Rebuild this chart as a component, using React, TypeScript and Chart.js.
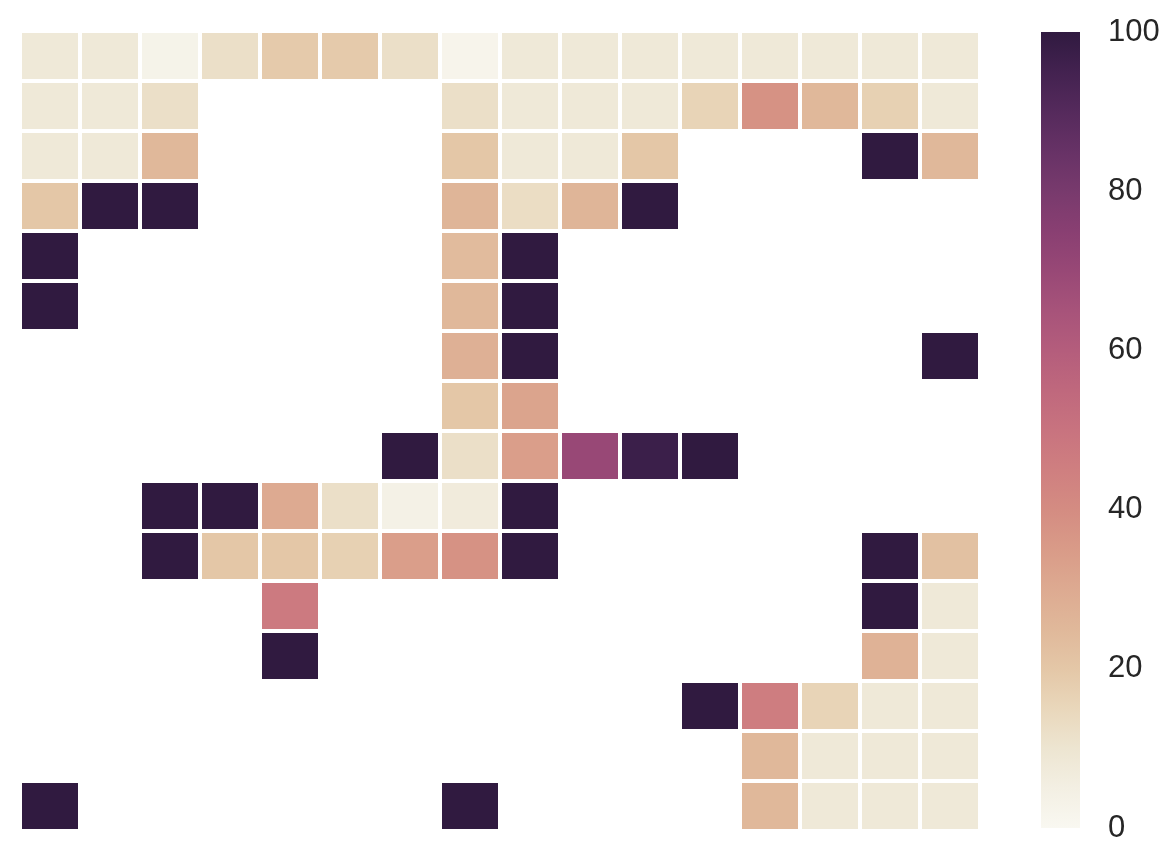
import React, { useEffect, useRef } from "react";
import { Chart, registerables } from "chart.js";

Chart.register(...registerables);

// Column / row labels (hidden in the reference, kept for structure)
const columns = ["0", "1", "2", "3", "4", "5", "6", "7", "8", "9", "10", "11", "12", "13", "14", "15"];

// Heatmap values per row (null = masked / empty cell), top row first
const row00 = [8, 8, 3, 12, 19, 19, 12, 2, 8, 8, 8, 8, 8, 8, 8, 8];
const row01 = [8, 8, 12, null, null, null, null, 12, 8, 8, 8, 16, 38, 25, 17, 8];
const row02 = [8, 8, 25, null, null, null, null, 20, 8, 8, 20, null, null, null, 100, 25];
const row03 = [20, 100, 100, null, null, null, null, 26, 13, 26, 100, null, null, null, null, null];
const row04 = [100, null, null, null, null, null, null, 24, 100, null, null, null, null, null, null, null];
const row05 = [100, null, null, null, null, null, null, 25, 100, null, null, null, null, null, null, null];
const row06 = [null, null, null, null, null, null, null, 28, 100, null, null, null, null, null, null, 100];
const row07 = [null, null, null, null, null, null, null, 20, 32, null, null, null, null, null, null, null];
const row08 = [null, null, null, null, null, null, 100, 12, 34, 70, 97, 100, null, null, null, null];
const row09 = [null, null, 100, 100, 30, 12, 4, 7, 100, null, null, null, null, null, null, null];
const row10 = [null, null, 100, 20, 20, 17, 34, 38, 100, null, null, null, null, null, 100, 22];
const row11 = [null, null, null, null, 47, null, null, null, null, null, null, null, null, null, 100, 8];
const row12 = [null, null, null, null, 100, null, null, null, null, null, null, null, null, null, 27, 8];
const row13 = [null, null, null, null, null, null, null, null, null, null, null, 100, 46, 16, 8, 8];
const row14 = [null, null, null, null, null, null, null, null, null, null, null, null, 25, 8, 8, 8];
const row15 = [100, null, null, null, null, null, null, 100, null, null, null, null, 25, 8, 8, 8];

const rows = [row00, row01, row02, row03, row04, row05, row06, row07, row08, row09, row10, row11, row12, row13, row14, row15];

// Colorbar range and ticks
const colorMin = 0;
const colorMax = 100;
const colorTicks = [0, 20, 40, 60, 80, 100];

// Palette stops (value fraction -> rgb)
const paletteStops: [number, number[]][] = [
  [0.0, [249, 248, 241]],
  [0.05, [243, 239, 227]],
  [0.1, [237, 229, 209]],
  [0.15, [233, 215, 187]],
  [0.2, [228, 199, 167]],
  [0.25, [224, 184, 154]],
  [0.3, [221, 170, 145]],
  [0.35, [217, 155, 136]],
  [0.4, [212, 140, 130]],
  [0.45, [207, 127, 128]],
  [0.5, [200, 115, 127]],
  [0.55, [191, 104, 125]],
  [0.6, [180, 93, 124]],
  [0.65, [167, 83, 122]],
  [0.7, [152, 72, 118]],
  [0.75, [137, 63, 114]],
  [0.8, [120, 58, 109]],
  [0.85, [103, 50, 102]],
  [0.9, [85, 42, 92]],
  [0.95, [67, 34, 80]],
  [1.0, [48, 26, 64]],
];

function colorAt(t: number): string {
  const f = Math.max(0, Math.min(1, t));
  for (let i = 1; i < paletteStops.length; i++) {
    const [t1, c1] = paletteStops[i];
    const [t0, c0] = paletteStops[i - 1];
    if (f <= t1) {
      const k = (f - t0) / (t1 - t0);
      const c = c0.map((v, j) => Math.round(v + (c1[j] - v) * k));
      return `rgb(${c[0]},${c[1]},${c[2]})`;
    }
  }
  const c = paletteStops[paletteStops.length - 1][1];
  return `rgb(${c[0]},${c[1]},${c[2]})`;
}

function colorFor(v: number | null): string {
  if (v === null) return "rgba(0,0,0,0)";
  return colorAt((v - colorMin) / (colorMax - colorMin));
}

export default function App() {
  const heatRef = useRef<HTMLCanvasElement | null>(null);
  const barRef = useRef<HTMLCanvasElement | null>(null);

  useEffect(() => {
    document.body.style.margin = "0";
    const heatCanvas = heatRef.current!;
    const barCanvas = barRef.current!;

    const datasets = rows.map((row, r) => ({
      label: `row ${r}`,
      data: row.map((v) => (v === null ? null : [r, r + 1])),
      backgroundColor: row.map((v) => colorFor(v)),
      borderColor: "#ffffff",
      borderWidth: 2,
      borderSkipped: false as const,
      grouped: false,
      barPercentage: 1,
      categoryPercentage: 1,
      inflateAmount: 0,
    }));

    const heat = new Chart(heatCanvas, {
      type: "bar",
      data: { labels: columns, datasets: datasets as any },
      options: {
        animation: false,
        responsive: false,
        maintainAspectRatio: false,
        layout: { padding: { left: 20, top: 31, right: 20, bottom: 17 } },
        plugins: { legend: { display: false }, tooltip: { enabled: false } },
        scales: {
          x: { type: "category", display: false, offset: true, grid: { display: false } },
          y: { type: "linear", display: false, min: 0, max: rows.length, reverse: true },
        },
      },
    });

    const bar = new Chart(barCanvas, {
      type: "bar",
      data: {
        labels: ["colorbar"],
        datasets: [
          {
            label: "colorbar",
            data: [[colorMin, colorMax]] as any,
            backgroundColor: (ctx: any) => {
              const chart = ctx.chart;
              const area = chart.chartArea;
              if (!area) return "rgba(0,0,0,0)";
              const g = chart.ctx.createLinearGradient(0, area.bottom, 0, area.top);
              paletteStops.forEach(([t, c]) => g.addColorStop(t, `rgb(${c[0]},${c[1]},${c[2]})`));
              return g;
            },
            borderWidth: 0,
            barPercentage: 1,
            categoryPercentage: 1,
            inflateAmount: 0,
          } as any,
        ],
      },
      options: {
        animation: false,
        responsive: false,
        maintainAspectRatio: false,
        layout: { padding: { left: 41, top: 32, right: 0, bottom: 20 } },
        plugins: { legend: { display: false }, tooltip: { enabled: false } },
        scales: {
          x: { display: false, offset: true },
          y: {
            position: "right",
            min: colorMin,
            max: colorMax,
            afterFit: (scale: any) => {
              scale.width = 90;
              scale.paddingTop = 0;
              scale.paddingBottom = 0;
            },
            afterBuildTicks: (scale: any) => {
              scale.ticks = colorTicks.map((v) => ({ value: v }));
            },
            grid: { display: false, drawTicks: false },
            border: { display: false },
            ticks: {
              padding: 28,
              color: "#262626",
              font: { family: "'Liberation Sans', Arial, sans-serif", size: 31 },
            },
          },
        },
      },
    });

    return () => {
      heat.destroy();
      bar.destroy();
    };
  }, []);

  return (
    <div style={{ position: "absolute", left: 0, top: 0, width: 1170, height: 848, background: "#fff" }}>
      <canvas ref={heatRef} width={1000} height={848} style={{ position: "absolute", left: 0, top: 0 }} />
      <canvas ref={barRef} width={170} height={848} style={{ position: "absolute", left: 1000, top: 0 }} />
    </div>
  );
}
